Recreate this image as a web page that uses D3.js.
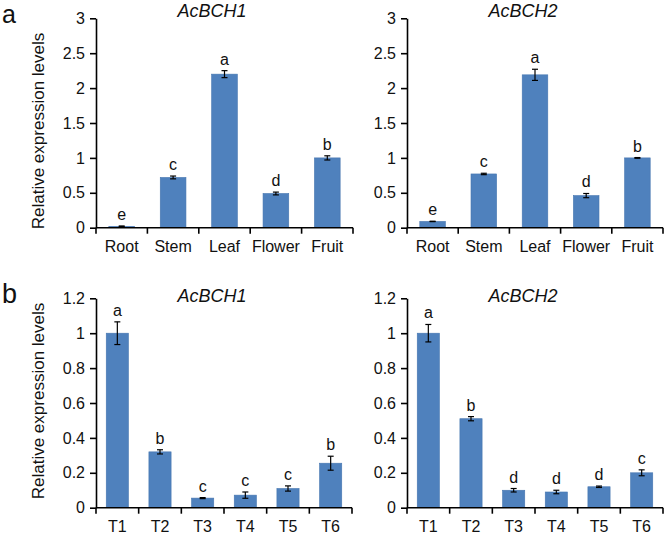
<!DOCTYPE html>
<html>
<head>
<meta charset="utf-8">
<script src="https://cdn.jsdelivr.net/npm/d3@7"></script>
<style>
  html, body { margin: 0; padding: 0; background: #fff; }
  svg { display: block; font-family: "Liberation Sans", Arial, sans-serif; }
</style>
</head>
<body>
<svg id="chart" width="667" height="535"></svg>
<script>
// ---- data ----
const tissues = ["Root", "Stem", "Leaf", "Flower", "Fruit"];
const treatments = ["T1", "T2", "T3", "T4", "T5", "T6"];

const bch1Tissue = [0.02, 0.72, 2.2, 0.49, 1.0];
const bch1TissueErr = [0.005, 0.02, 0.05, 0.02, 0.03];
const bch1TissueSig = ["e", "c", "a", "d", "b"];

const bch2Tissue = [0.09, 0.77, 2.19, 0.46, 1.0];
const bch2TissueErr = [0.003, 0.01, 0.08, 0.03, 0.005];
const bch2TissueSig = ["e", "c", "a", "d", "b"];

const bch1Treat = [1.0, 0.32, 0.055, 0.072, 0.11, 0.255];
const bch1TreatErr = [0.065, 0.012, 0.003, 0.018, 0.015, 0.04];
const bch1TreatSig = ["a", "b", "c", "c", "c", "b"];

const bch2Treat = [1.0, 0.51, 0.10, 0.09, 0.12, 0.20];
const bch2TreatErr = [0.05, 0.012, 0.01, 0.01, 0.004, 0.017];
const bch2TreatSig = ["a", "b", "d", "d", "d", "c"];

const tissueTicks = [0, 0.5, 1, 1.5, 2, 2.5, 3];
const treatTicks = [0, 0.2, 0.4, 0.6, 0.8, 1, 1.2];

const yLabel = "Relative expression levels";

// ---- drawing ----
const svg = d3.select("#chart");
const barColor = "#4f81bd";

function panel(o) {
  const g = svg.append("g");
  const x = d3.scaleBand().domain(o.cats).range([o.x0, o.x1]).paddingInner(o.pad).paddingOuter(o.pad / 2);
  const xb = d3.scaleBand().domain(o.cats).range([o.x0, o.x1]);
  const y = d3.scaleLinear().domain([0, o.ticks[o.ticks.length - 1]]).range([o.y0, o.y1]);

  const data = o.cats.map((c, i) => ({ c, v: o.vals[i], e: o.errs[i], s: o.sig[i] }));

  g.selectAll("rect.bar").data(data).join("rect")
    .attr("class", "bar")
    .attr("x", d => x(d.c)).attr("width", x.bandwidth())
    .attr("y", d => y(d.v)).attr("height", d => y(0) - y(d.v))
    .attr("fill", barColor).attr("stroke", "#4676b0").attr("stroke-width", 0.6);

  // error bars
  const cap = 3;
  const eb = g.selectAll("g.err").data(data).join("g").attr("class", "err")
    .attr("stroke", "#000").attr("stroke-width", 1.2);
  eb.append("line")
    .attr("x1", d => x(d.c) + x.bandwidth() / 2).attr("x2", d => x(d.c) + x.bandwidth() / 2)
    .attr("y1", d => y(d.v - d.e)).attr("y2", d => y(d.v + d.e));
  eb.append("line")
    .attr("x1", d => x(d.c) + x.bandwidth() / 2 - cap).attr("x2", d => x(d.c) + x.bandwidth() / 2 + cap)
    .attr("y1", d => y(d.v + d.e)).attr("y2", d => y(d.v + d.e));
  eb.append("line")
    .attr("x1", d => x(d.c) + x.bandwidth() / 2 - cap).attr("x2", d => x(d.c) + x.bandwidth() / 2 + cap)
    .attr("y1", d => y(d.v - d.e)).attr("y2", d => y(d.v - d.e));

  // significance letters
  g.selectAll("text.sig").data(data).join("text")
    .attr("class", "sig")
    .attr("x", d => x(d.c) + x.bandwidth() / 2)
    .attr("y", d => y(d.v + d.e) - 6)
    .attr("text-anchor", "middle").attr("font-size", 16).attr("fill", "#111")
    .text(d => d.s);

  // y axis
  const ya = g.append("g").attr("transform", `translate(${o.x0},0)`)
    .call(d3.axisLeft(y).tickValues(o.ticks).tickSize(6).tickSizeOuter(0).tickPadding(5)
      .tickFormat(d => String(+d.toFixed(1))));
  ya.select(".domain").attr("stroke", "#000").attr("stroke-width", 1.6);
  ya.selectAll(".tick line").attr("stroke", "#000").attr("stroke-width", 1.6);
  ya.selectAll(".tick text").attr("font-size", 16).attr("fill", "#111")
    .attr("font-family", "'Liberation Sans', Arial, sans-serif");

  // x axis
  g.append("line").attr("x1", o.x0).attr("x2", o.x1).attr("y1", y(0)).attr("y2", y(0))
    .attr("stroke", "#000").attr("stroke-width", 1.6);
  const bounds = o.cats.map(c => xb(c)).concat([o.x1]);
  g.selectAll("line.xt").data(bounds).join("line").attr("class", "xt")
    .attr("x1", d => d).attr("x2", d => d).attr("y1", y(0)).attr("y2", y(0) + 6)
    .attr("stroke", "#000").attr("stroke-width", 1.6);
  g.selectAll("text.xl").data(o.cats).join("text").attr("class", "xl")
    .attr("x", d => xb(d) + xb.bandwidth() / 2).attr("y", y(0) + 24)
    .attr("text-anchor", "middle").attr("font-size", 16).attr("fill", "#111")
    .text(d => d);

  // title
  g.append("text").attr("x", o.titleX).attr("y", o.titleY)
    .attr("text-anchor", "middle").attr("font-size", 18).attr("font-style", "italic").attr("fill", "#111")
    .text(o.title);

  if (o.ylab) {
    g.append("text")
      .attr("transform", `translate(44,${o.ylabY}) rotate(-90)`)
      .attr("text-anchor", "middle").attr("font-size", 17).attr("fill", "#111")
      .text(yLabel);
  }
}

panel({ cats: tissues, vals: bch1Tissue, errs: bch1TissueErr, sig: bch1TissueSig, ticks: tissueTicks,
  x0: 96, x1: 353, y0: 227.7, y1: 18.3, pad: 0.5, title: "AcBCH1", titleX: 212, titleY: 17, ylab: true, ylabY: 131 });
panel({ cats: tissues, vals: bch2Tissue, errs: bch2TissueErr, sig: bch2TissueSig, ticks: tissueTicks,
  x0: 407, x1: 663, y0: 227.7, y1: 18.3, pad: 0.5, title: "AcBCH2", titleX: 523, titleY: 17, ylab: false });
panel({ cats: treatments, vals: bch1Treat, errs: bch1TreatErr, sig: bch1TreatSig, ticks: treatTicks,
  x0: 96, x1: 352, y0: 507.7, y1: 298.3, pad: 0.48, title: "AcBCH1", titleX: 212, titleY: 302, ylab: true, ylabY: 401 });
panel({ cats: treatments, vals: bch2Treat, errs: bch2TreatErr, sig: bch2TreatSig, ticks: treatTicks,
  x0: 407, x1: 663, y0: 507.7, y1: 298.3, pad: 0.48, title: "AcBCH2", titleX: 523, titleY: 302, ylab: false });

// panel letters
svg.append("text").attr("x", 2).attr("y", 23).attr("font-size", 25).attr("fill", "#111").text("a");
svg.append("text").attr("x", 2).attr("y", 303).attr("font-size", 27).attr("fill", "#111").text("b");
</script>
</body>
</html>
